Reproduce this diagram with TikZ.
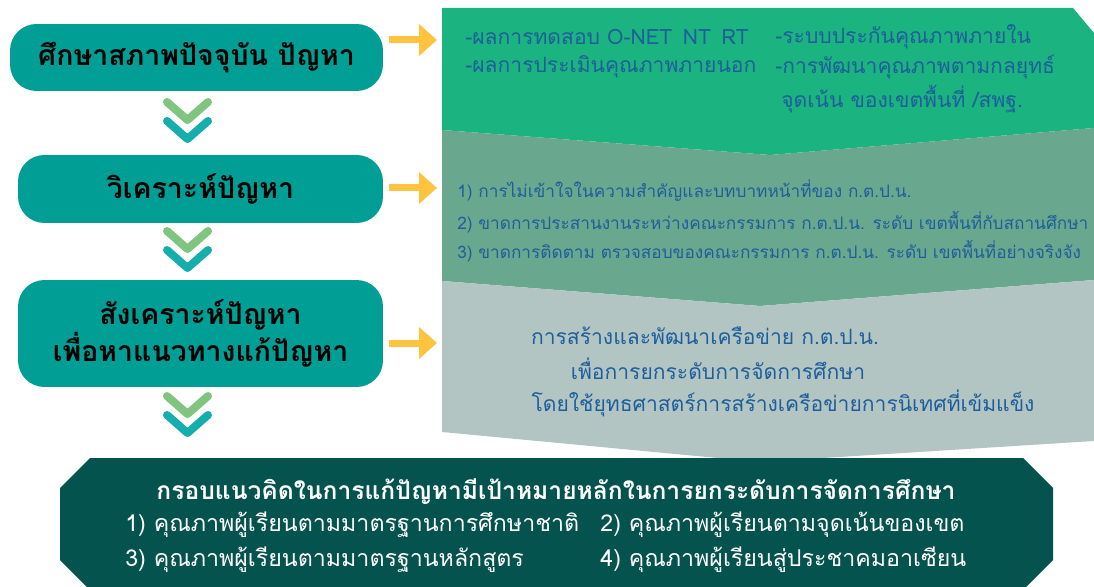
\documentclass[tikz,border=0pt]{standalone}
\usepackage{fontspec}
\newfontfamily\thaifont[Script=Thai]{Loma}
\usetikzlibrary{arrows.meta,positioning}
\definecolor{Stage}{HTML}{009E94}
\definecolor{ChevGreen}{HTML}{7FC47F}
\definecolor{ChevTeal}{HTML}{15AEAD}
\definecolor{Sun}{HTML}{FEC33F}
\definecolor{BandA}{HTML}{1BB37F}
\definecolor{BandB}{HTML}{69A88F}
\definecolor{BandC}{HTML}{B3C5C3}
\definecolor{Ink}{HTML}{1E5E9B}
\definecolor{Deep}{HTML}{04534E}

\begin{document}
\begin{tikzpicture}[x=0.02cm,y=-0.02cm,
    stage/.style={rounded corners=15pt,fill=Stage,minimum width=7.3cm,minimum height=1.36cm,
      inner sep=0pt,align=center,font=\thaifont\bfseries\fontsize{16.2}{21}\selectfont},
    band/.style={inner sep=0pt,anchor=west,text=Ink,font=\thaifont\fontsize{12}{14}\selectfont},
    issue/.style={band,font=\thaifont\fontsize{9.8}{12}\selectfont},
    goal/.style={inner sep=0pt,anchor=west,text=white,font=\thaifont\fontsize{13.2}{16}\selectfont},
    chev/.style={line width=0.16cm,line cap=round,line join=round},
    feed/.style={Sun,line width=0.14cm,-{Triangle[length=0.36cm,width=0.62cm]}}
  ]
    \useasboundingbox (0,0) rectangle (1094,587);
    \fill[BandA] (442,8) -- (1073,8) -- (1094,33) -- (1094,128) -- (770,155) -- (442,130) -- cycle;
    \fill[BandB] (442,130) -- (770,155) -- (1094,128) -- (1094,280) -- (760,306) -- (442,281) -- cycle;
    \fill[BandC] (442,281) -- (760,306) -- (1094,280) -- (1094,441) -- (760,462) -- (442,432) -- cycle;
    \fill[Deep] (90,458) -- (1023,458) -- (1053,488) -- (1053,560) -- (1023,590) -- (90,590)
      -- (60,560) -- (60,488) -- cycle;
    \node[stage,minimum width=7.46cm,minimum height=1.34cm] (s1) at (196.5,57.5) {ศึกษาสภาพปัจจุบัน ปัญหา};
    \node[stage] (s2) at (200.5,189) {วิเคราะห์ปัญหา};
    \node[stage,minimum height=2.14cm] (s3) at (200.5,333.5) {สังเคราะห์ปัญหา\\เพื่อหาแนวทางแก้ปัญหา};
    \foreach \t in {102,231,396}{
      \draw[chev,ChevGreen] (167,\t) -- (187.5,\t+18) -- (208,\t);
      \draw[chev,ChevTeal] (167,\t+19) -- (187.5,\t+37) -- (208,\t+19);
    }
    \foreach \n/\y in {1/40,2/188,3/343}{
      \coordinate (fa\n) at (389,\y);
      \coordinate (fb\n) at (437,\y);
      \draw[feed] (fa\n) -- (fb\n);
    }
    \node[band] (p1) at (465,37) {-ผลการทดสอบ O-NET\enspace NT\enspace RT};
    \node[band] (p2) at (465,67) {-ผลการประเมินคุณภาพภายนอก};
    \node[band] (p3) at (775,37) {-ระบบประกันคุณภาพภายใน};
    \node[band] (p4) at (775,67) {-การพัฒนาคุณภาพตามกลยุทธ์};
    \node[band] (p5) at (781,99) {จุดเน้น ของเขตพื้นที่ /สพฐ.};
    \node[issue] (q1) at (457,191) {1) การไม่เข้าใจในความสำคัญและบทบาทหน้าที่ของ ก.ต.ป.น.};
    \node[issue] (q2) at (457,222) {2) ขาดการประสานงานระหว่างคณะกรรมการ ก.ต.ป.น. ระดับ เขตพื้นที่กับสถานศึกษา};
    \node[issue] (q3) at (457,251) {3) ขาดการติดตาม ตรวจสอบของคณะกรรมการ ก.ต.ป.น. ระดับ เขตพื้นที่อย่างจริงจัง};
    \node[band,anchor=center] (r1) at (705,336) {การสร้างและพัฒนาเครือข่าย ก.ต.ป.น.};
    \node[band,anchor=center] (r2) at (718,369) {เพื่อการยกระดับการจัดการศึกษา};
    \node[band,anchor=center] (r3) at (783,403) {โดยใช้ยุทธศาสตร์การสร้างเครือข่ายการนิเทศที่เข้มแข็ง};
    \node[goal,anchor=center,font=\thaifont\bfseries\fontsize{14}{17}\selectfont] (g0) at (556,492)
      {กรอบแนวคิดในการแก้ปัญหามีเป้าหมายหลักในการยกระดับการจัดการศึกษา};
    \node[goal] (g1) at (125,525) {1) คุณภาพผู้เรียนตามมาตรฐานการศึกษาชาติ};
    \node[goal] (g2) at (600,525) {2) คุณภาพผู้เรียนตามจุดเน้นของเขต};
    \node[goal] (g3) at (125,560) {3) คุณภาพผู้เรียนตามมาตรฐานหลักสูตร};
    \node[goal] (g4) at (600,560) {4) คุณภาพผู้เรียนสู่ประชาคมอาเซียน};
\end{tikzpicture}
\end{document}
